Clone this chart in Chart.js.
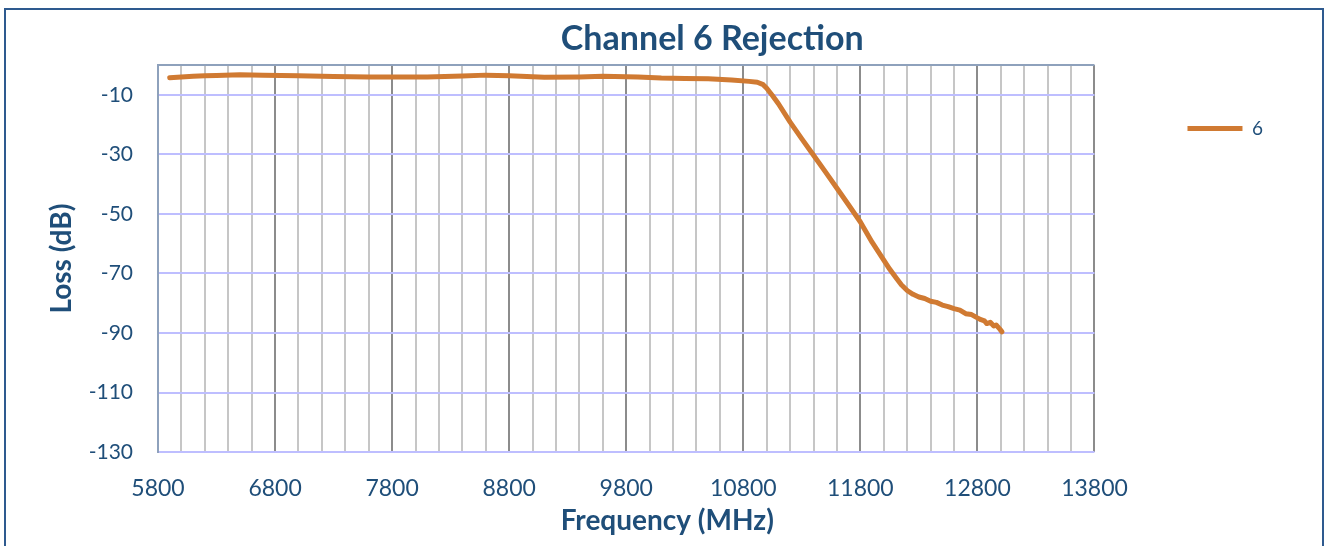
<!DOCTYPE html>
<html>
<head>
<meta charset="utf-8">
<script src="https://cdn.jsdelivr.net/npm/chart.js@4.4.1/dist/chart.umd.min.js"></script>
<style>
  html, body { margin: 0; padding: 0; background: #fff; }
  #frame { position: absolute; left: 4px; top: 8px; width: 1320px; height: 600px;
           border: 2px solid #2E5A8F; box-sizing: border-box; background: #fff; }
  #box { position: absolute; left: 0; top: 0; width: 1314px; height: 536px; }
</style>
</head>
<body>
<div id="frame"><div id="box"><canvas id="chart"></canvas></div></div>
<script>
// values
var freqMHz = [5900, 6000, 6100, 6200, 6300, 6500, 6700, 7000, 7300, 7600, 7900, 8100, 8400, 8600, 8800,
  9100, 9400, 9600, 9900, 10100, 10300, 10500, 10700, 10850, 10920, 10970, 11000, 11050, 11100, 11200,
  11300, 11400, 11500, 11600, 11700, 11800, 11900, 11950, 12000, 12050, 12100, 12150, 12200, 12250,
  12300, 12350, 12400, 12450, 12500, 12550, 12600, 12650, 12700, 12750, 12800, 12830, 12860, 12880,
  12910, 12940, 12960, 12990, 13010];
var lossDb = [-4.3, -4.0, -3.8, -3.6, -3.5, -3.3, -3.4, -3.6, -3.9, -4.0, -4.0, -4.0, -3.7, -3.4, -3.6,
  -4.1, -4.0, -3.8, -4.0, -4.4, -4.5, -4.6, -5.0, -5.5, -5.8, -6.6, -7.8, -10.3, -13.0, -19.2,
  -24.8, -30.3, -35.8, -41.4, -47.0, -52.7, -59.5, -62.5, -65.5, -68.5, -71.2, -73.8, -75.7, -77.0,
  -77.9, -78.4, -79.3, -79.7, -80.6, -81.1, -81.8, -82.3, -83.5, -83.8, -84.9, -85.5, -85.9, -86.8,
  -86.4, -87.6, -87.3, -88.6, -89.6];
var seriesName = '6';
var xLabelTicks = [5800, 6800, 7800, 8800, 9800, 10800, 11800, 12800, 13800];
var xMinorStep = 200;
var yTicks = [-130, -110, -90, -70, -50, -30, -10];
var yMax = 0;

var txt = '#1F4E79';
var font = 'Lato';

// Excel puts the chart title and the x title a bit right of the plot centre
var nudgeTitles = {
  id: 'nudgeTitles',
  afterLayout: function (chart) {
    var mid = (chart.chartArea.left + chart.chartArea.right) / 2;
    chart.boxes.forEach(function (b) {
      if (!b.options || typeof b.options.text !== 'string') return;
      var off = b === chart.titleBlock ? 86 : 41;
      var w = b.right - b.left;
      b.left = mid + off - w / 2;
      b.right = b.left + w;
    });
  }
};

new Chart(document.getElementById('chart'), {
  type: 'line',
  data: {
    datasets: [{
      label: seriesName,
      data: freqMHz.map(function (f, i) { return { x: f, y: lossDb[i] }; }),
      borderColor: '#D07A32',
      backgroundColor: '#D07A32',
      borderWidth: 5,
      borderCapStyle: 'round',
      borderJoinStyle: 'round',
      pointRadius: 0,
      tension: 0
    }]
  },
  plugins: [nudgeTitles],
  options: {
    responsive: true,
    maintainAspectRatio: false,
    animation: false,
    layout: { padding: { left: 30, right: 47, top: 16, bottom: 0 } },
    scales: {
      x: {
        type: 'linear',
        min: 5800,
        max: 13800,
        afterBuildTicks: function (scale) {
          var t = [];
          for (var v = 5800; v <= 13800; v += xMinorStep) t.push({ value: v });
          scale.ticks = t;
        },
        afterFit: function (scale) { scale.height = 50.6; },
        ticks: {
          autoSkip: false,
          maxRotation: 0,
          minRotation: 0,
          padding: 23,
          color: txt,
          font: { family: font, size: 23 },
          callback: function (v) { return xLabelTicks.indexOf(v) >= 0 ? String(v) : ''; }
        },
        grid: {
          drawTicks: false,
          lineWidth: 2,
          color: function (c) {
            return c.tick && xLabelTicks.indexOf(c.tick.value) >= 0 ? '#8C8C8C' : '#C6C6C6';
          }
        },
        border: { display: false }
      },
      y: {
        min: -130,
        max: yMax,
        afterBuildTicks: function (scale) {
          scale.ticks = yTicks.concat([yMax]).map(function (v) { return { value: v }; });
        },
        afterFit: function (scale) { scale.width = 122; },
        ticks: {
          padding: 25,
          color: txt,
          font: { family: font, size: 21 },
          callback: function (v) { return yTicks.indexOf(v) >= 0 ? String(v) : ''; }
        },
        grid: {
          drawTicks: false,
          lineWidth: 2,
          color: function (c) {
            return c.tick && c.tick.value === yMax ? '#8EA1BC' : '#BEBEFF';
          }
        },
        border: { display: true, color: '#8EA1BC', width: 2 },
        title: {
          display: true,
          text: 'Loss (dB)',
          color: txt,
          font: { family: font, size: 28, weight: 'bold' },
          padding: { top: 9, bottom: 0 }
        }
      }
    },
    plugins: {
      title: {
        display: true,
        text: 'Channel 6 Rejection',
        color: txt,
        font: { family: font, size: 34, weight: 'bold', lineHeight: 1 },
        padding: { top: -4, bottom: 9 }
      },
      subtitle: {
        display: true,
        position: 'bottom',
        text: 'Frequency (MHz)',
        color: txt,
        font: { family: font, size: 28, weight: 'bold', lineHeight: 1.2 },
        padding: { top: 1.6, bottom: 8 }
      },
      legend: {
        position: 'right',
        align: 'start',
        labels: {
          usePointStyle: true,
          pointStyle: 'line',
          pointStyleWidth: 55,
          padding: 93,
          color: txt,
          font: { family: font, size: 19 }
        }
      },
      tooltip: { enabled: false }
    }
  }
});
</script>
</body>
</html>
